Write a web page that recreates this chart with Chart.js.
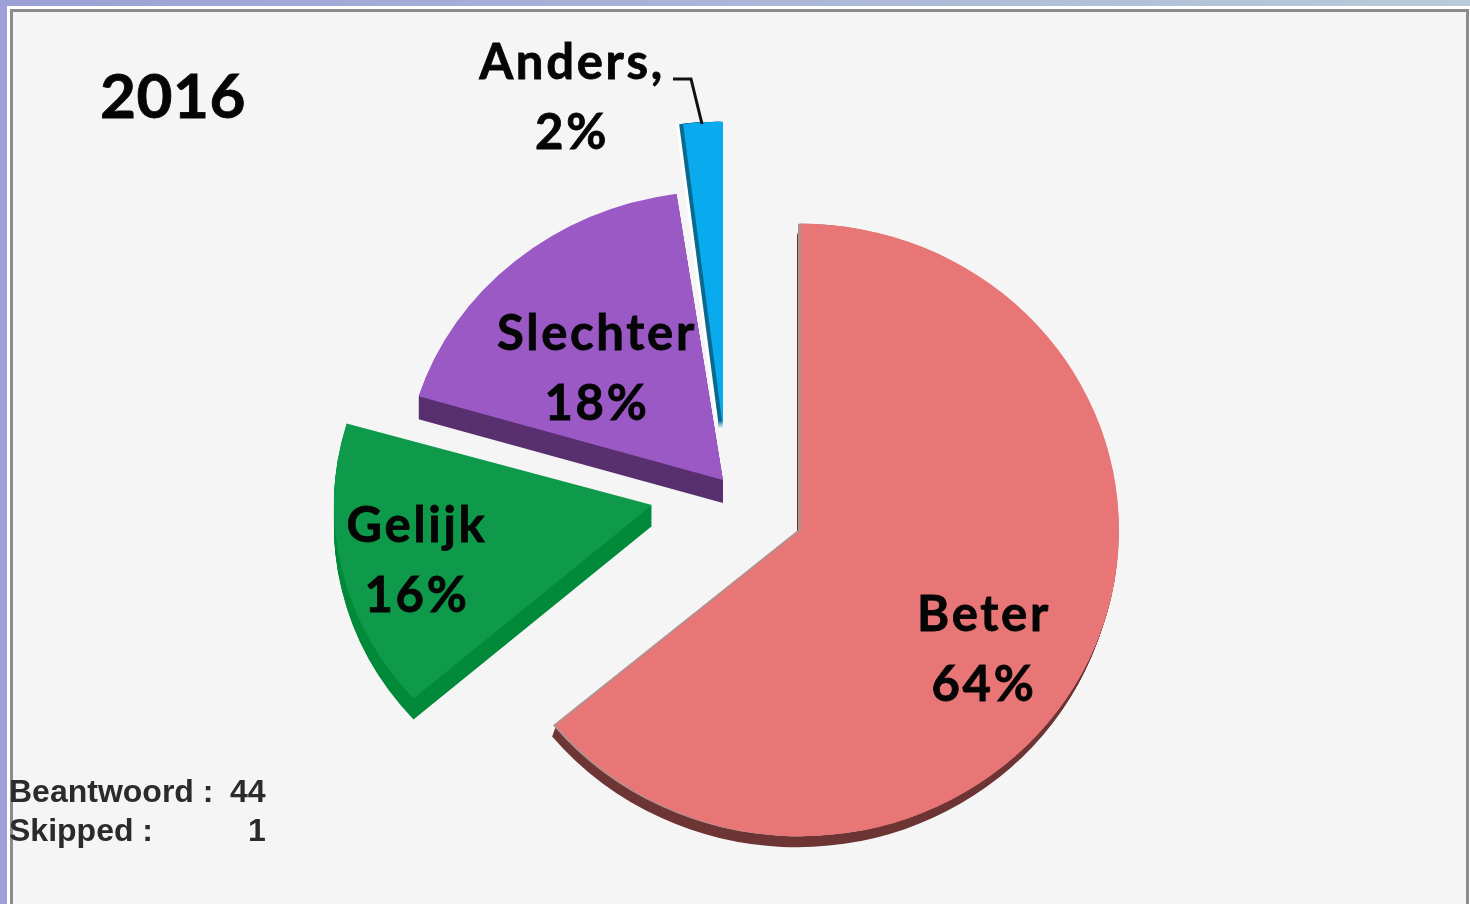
<!DOCTYPE html>
<html><head><meta charset="utf-8">
<style>
html,body{margin:0;padding:0;width:1470px;height:904px;overflow:hidden;background:#fff}
#band{position:absolute;left:0;top:0;width:1470px;height:6px;background:linear-gradient(90deg,#9ca0d6,#b9cbd9)}
#bandL{position:absolute;left:0;top:0;width:7px;height:904px;background:#9ca0d6}
#frame{position:absolute;left:10px;top:9px;width:1459px;height:895px;box-sizing:border-box;border:3px solid #8c8c8c;border-bottom:none;background:#f5f5f5}
canvas{position:absolute;left:0;top:0}
.n{position:absolute;font:bold 32px "Liberation Sans",Arial,sans-serif;color:#2b2b2b;line-height:38px;white-space:pre}
</style></head><body>
<div id="band"></div><div id="bandL"></div><div id="frame"></div>
<canvas id="c" width="1470" height="904"></canvas>
<div class="n" style="left:9px;top:772px">Beantwoord :</div>
<div class="n" style="left:230px;top:772px">44</div>
<div class="n" style="left:9px;top:811px">Skipped :</div>
<div class="n" style="left:248px;top:811px">1</div>
<script src="https://cdn.jsdelivr.net/npm/chart.js@4"></script>
<script>
const categories = ['Beter', 'Gelijk', 'Slechter', 'Anders'];
const percents = [64, 16, 18, 2];
const titleText = '2016';
const sliceColors = ['#e97676', '#0f994a', '#9b59c6', '#0aabee'];

// presentation only: where each exploded wedge's tip sits, its tilt, turn and 3D sides
const tips = [[801, 530], [652, 505], [723, 480], [723, 428]];
const tilt = [0.963, 0.92, 0.91, 0.963];
const turn = [0, -1.8, -1.2, 0];
const sides = [
  [[-4, 11, '#6e3535'], [-3, 0, '#b3908e']],
  [[0, 21, '#008a3a']],
  [[0, 23, '#59306f']],
  [[-7, 0, '#ffffff'], [-4, 0, '#0b6a8f']]
];
const labelPos = [[984, 614], [417, 525], [597, 333], [572, 62]];

const exploded = {
  id: 'exploded',
  beforeDatasetDraw(chart, args) {
    const ctx = chart.ctx;
    args.meta.data.forEach((arc, i) => {
      const place = (dx, dy) => {
        ctx.translate(tips[i][0] + dx, tips[i][1] + dy);
        ctx.scale(1, tilt[i]);
        ctx.rotate(turn[i] * Math.PI / 180);
        ctx.translate(-arc.x, -arc.y);
      };
      const base = arc.options;
      sides[i].forEach(([sx, sy, col]) => {
        arc.options = Object.assign({}, base, {backgroundColor: col, borderColor: col});
        const steps = Math.max(Math.abs(sx), Math.abs(sy));
        for (let k = steps; k > 0; k--) {
          ctx.save();
          place(sx * k / steps, sy * k / steps);
          arc.draw(ctx);
          ctx.restore();
        }
      });
      arc.options = base;
      ctx.save();
      place(0, 0);
      arc.draw(ctx);
      ctx.restore();
    });
    return false;
  },
  afterDatasetsDraw(chart) {
    const ctx = chart.ctx;
    ctx.save();
    // leader line of the small slice
    ctx.strokeStyle = '#111';
    ctx.lineWidth = 3;
    ctx.beginPath();
    ctx.moveTo(673, 79); ctx.lineTo(691, 79); ctx.lineTo(702, 124);
    ctx.stroke();
    ctx.fillStyle = '#050505';
    ctx.strokeStyle = '#050505';
    ctx.textAlign = 'center';
    ctx.textBaseline = 'middle';
    ctx.font = '700 49px Lato, sans-serif';
    ctx.letterSpacing = '2.7px';
    ctx.lineWidth = 0.8;
    categories.forEach((name, i) => {
      const [x, y] = labelPos[i];
      const line1 = i === 3 ? name + ',' : name;
      const line2 = percents[i] + '%';
      ctx.fillText(line1, x, y + 1); ctx.strokeText(line1, x, y + 1);
      ctx.fillText(line2, x, y + 71); ctx.strokeText(line2, x, y + 71);
    });
    ctx.font = '700 62px Lato, sans-serif';
    ctx.letterSpacing = '0.5px';
    ctx.fillText(titleText, 173, 98); ctx.strokeText(titleText, 173, 98);
    ctx.restore();
  }
};

new Chart(document.getElementById('c'), {
  type: 'pie',
  data: {
    labels: categories,
    datasets: [{data: percents, backgroundColor: sliceColors, borderWidth: 0}]
  },
  options: {
    responsive: false,
    animation: false,
    rotation: 0,
    layout: {padding: {left: 130, right: 0, top: 212, bottom: 56}},
    plugins: {legend: {display: false}, tooltip: {enabled: false}, title: {display: false}}
  },
  plugins: [exploded]
});
</script>
</body></html>
